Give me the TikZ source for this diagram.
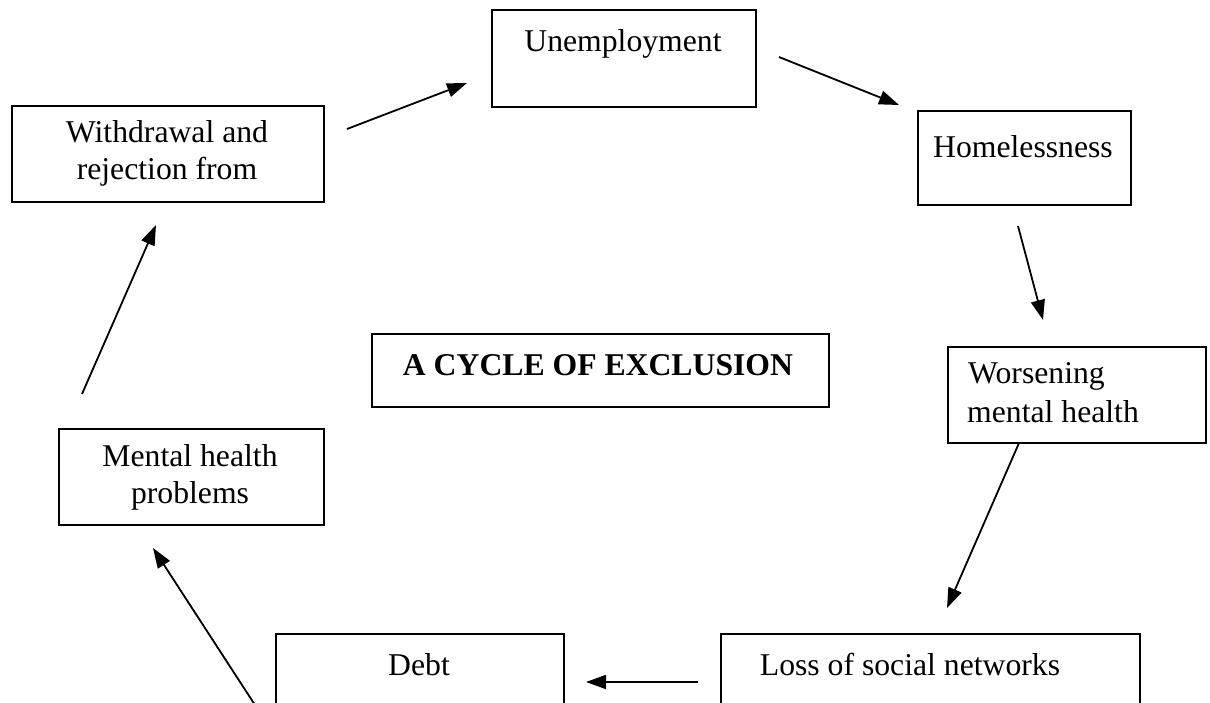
\documentclass[tikz,border=0pt]{standalone}
\usepackage{fontspec}
\setmainfont{Liberation Serif}
\usetikzlibrary{arrows.meta}
\begin{document}
\begin{tikzpicture}[x=1pt,y=-1pt,
  box/.style={draw, line width=1.6pt, inner sep=0pt, anchor=north west},
  lbl/.style={anchor=base, inner sep=0pt, font=\fontsize{31.7}{38}\selectfont},
  conn/.style={line width=1.8pt, -{Triangle[length=20pt,width=14pt]}}]
\useasboundingbox (0,0) rectangle (1210,703);
\clip (0,0) rectangle (1210,703);
% boxes
\node[box, minimum width=264pt, minimum height=97pt] (unemp) at (491,9) {};
\node[box, minimum width=312pt, minimum height=96pt] (withd) at (11,105) {};
\node[box, minimum width=213pt, minimum height=94pt] (homel) at (917,110) {};
\node[box, minimum width=457pt, minimum height=73pt] (cycle) at (371,333) {};
\node[box, minimum width=258pt, minimum height=96pt] (worse) at (947,346) {};
\node[box, minimum width=265pt, minimum height=96pt] (mhp) at (58,428) {};
\node[box, minimum width=288pt, minimum height=100pt] (debt) at (275,633) {};
\node[box, minimum width=419pt, minimum height=100pt] (loss) at (720,633) {};
% texts
\node[lbl] (t1) at (623,52) {Unemployment};
\node[lbl] (t2a) at (167,143) {Withdrawal and};
\node[lbl] (t2b) at (167,180) {rejection from};
\node[lbl] (t3) at (1023,158) {Homelessness};
\node[lbl, font=\fontsize{31.7}{38}\selectfont\bfseries] (t4) at (598,375) {A CYCLE OF EXCLUSION};
\node[lbl, anchor=base west] (t5a) at (968,383) {Worsening};
\node[lbl, anchor=base west] (t5b) at (967,422) {mental health};
\node[lbl] (t6a) at (190,466) {Mental health};
\node[lbl] (t6b) at (190,503) {problems};
\node[lbl] (t7) at (419,675) {Debt};
\node[lbl] (t8) at (910,675) {Loss of social networks};
% connector ends
\coordinate (a1s) at (347,129); \coordinate (a1e) at (467,83);
\coordinate (a2s) at (779,57);  \coordinate (a2e) at (899,105);
\coordinate (a3s) at (1018,226); \coordinate (a3e) at (1043,320);
\coordinate (a4s) at (1019,443); \coordinate (a4e) at (947,608);
\coordinate (a5s) at (698,682); \coordinate (a5e) at (586,682);
\coordinate (a6s) at (255,705); \coordinate (a6e) at (153,548);
\coordinate (a7s) at (82,394); \coordinate (a7e) at (156,225);
\draw[conn] (a1s) -- (a1e);
\draw[conn] (a2s) -- (a2e);
\draw[conn] (a3s) -- (a3e);
\draw[conn] (a4s) -- (a4e);
\draw[conn] (a5s) -- (a5e);
\draw[conn] (a6s) -- (a6e);
\draw[conn] (a7s) -- (a7e);
\end{tikzpicture}
\end{document}
